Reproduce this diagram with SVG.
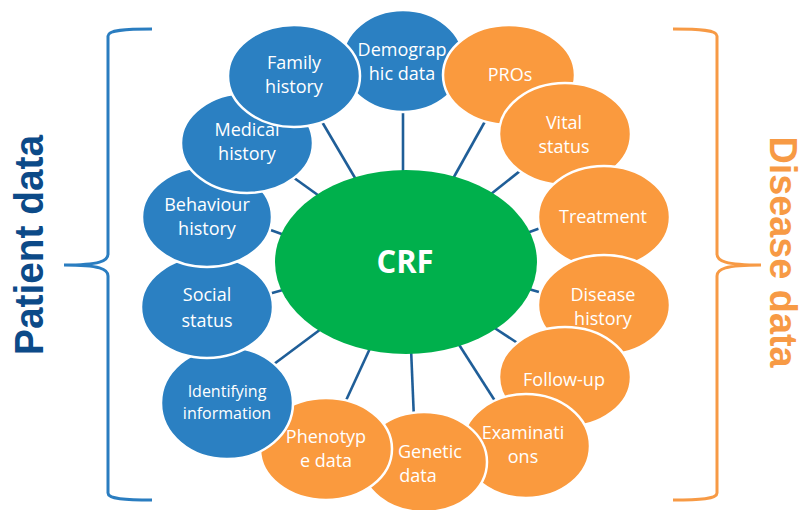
<svg xmlns="http://www.w3.org/2000/svg" width="806" height="510" viewBox="0 0 806 510">
<style>
.b{fill:#2B80C2;stroke:#fff;stroke-width:2.5}
.o{fill:#FA9A3E;stroke:#fff;stroke-width:2.5}
.t{font-family:"Open Sans","Noto Sans",sans-serif;font-size:18px;fill:#fff;text-anchor:middle}
.s{font-size:16px}
.c{stroke:#1F5E98;stroke-width:2.6;fill:none}
.br{fill:none;stroke-width:3}
</style>
<rect width="806" height="510" fill="#fff"/>
<g id="braces">
<path class="br" stroke="#2A7DC0" d="M152,29 C125,29 108,30 108,36 L108,254 C108,261 100,265 64,265 C100,265 108,269 108,276 L108,493 C108,499 125,500 152,500"/>
<path class="br" stroke="#F79A45" d="M673,29 C700,29 717,30 717,36 L717,254 C717,261 725,265 761,265 C725,265 717,269 717,276 L717,493 C717,499 700,500 673,500"/>
</g>
<text id="patient-label" transform="translate(43,245) rotate(-90)" font-family="Liberation Sans,Arial,sans-serif" font-weight="bold" font-size="40" fill="#0C4A88" text-anchor="middle" textLength="220" lengthAdjust="spacingAndGlyphs">Patient data</text>
<text id="disease-label" transform="translate(770,252) rotate(90)" font-family="Liberation Sans,Arial,sans-serif" font-weight="bold" font-size="38" fill="#F79A45" text-anchor="middle" textLength="231" lengthAdjust="spacingAndGlyphs">Disease data</text>
<g id="connectors">
<line class="c" x1="403" y1="105" x2="403" y2="178"/>
<line class="c" x1="318" y1="115" x2="358" y2="183"/>
<line class="c" x1="290" y1="175" x2="322" y2="198"/>
<line class="c" x1="265" y1="228" x2="290" y2="237"/>
<line class="c" x1="265" y1="295" x2="290" y2="288"/>
<line class="c" x1="270" y1="367" x2="325" y2="326"/>
<line class="c" x1="343" y1="407" x2="372" y2="344"/>
<line class="c" x1="411" y1="348" x2="414" y2="420"/>
<line class="c" x1="456" y1="340" x2="497" y2="404"/>
<line class="c" x1="490" y1="325" x2="522" y2="346"/>
<line class="c" x1="525" y1="288" x2="546" y2="294"/>
<line class="c" x1="524" y1="234" x2="546" y2="226"/>
<line class="c" x1="486" y1="198" x2="525" y2="167"/>
<line class="c" x1="450" y1="184" x2="488" y2="116"/>
</g>
<g id="crf">
<ellipse cx="406" cy="262" rx="131" ry="92" fill="#00B04C"/>
<text x="405" y="273" font-family="Open Sans,Noto Sans,sans-serif" font-weight="bold" font-size="33" fill="#fff" text-anchor="middle" textLength="57" lengthAdjust="spacingAndGlyphs">CRF</text>
</g>
<g id="demographic"><ellipse class="b" cx="403" cy="61" rx="61" ry="51"/><text class="t" x="402" y="56">Demograp</text><text class="t" x="402" y="80">hic data</text></g>
<g id="pros"><ellipse class="o" cx="509" cy="75" rx="66" ry="50"/><text class="t" x="510" y="81">PROs</text></g>
<g id="vital"><ellipse class="o" cx="565" cy="134" rx="66" ry="51"/><text class="t" x="564" y="129">Vital</text><text class="t" x="564" y="153">status</text></g>
<g id="treatment"><ellipse class="o" cx="604" cy="217" rx="66" ry="51"/><text class="t" x="603" y="223">Treatment</text></g>
<g id="disease-history"><ellipse class="o" cx="604" cy="305" rx="66" ry="50"/><text class="t" x="603" y="301">Disease</text><text class="t" x="603" y="325">history</text></g>
<g id="follow-up"><ellipse class="o" cx="565" cy="377" rx="66" ry="50"/><text class="t" x="564" y="386">Follow-up</text></g>
<g id="examinations"><ellipse class="o" cx="526" cy="446" rx="64" ry="52"/><text class="t" x="523" y="439">Examinati</text><text class="t" x="523" y="463">ons</text></g>
<g id="genetic"><ellipse class="o" cx="424" cy="462" rx="63" ry="50"/><text class="t" x="430" y="458">Genetic</text><text class="t" x="418" y="482">data</text></g>
<g id="phenotype"><ellipse class="o" cx="326" cy="449" rx="66" ry="51"/><text class="t" x="326" y="443">Phenotyp</text><text class="t" x="326" y="467">e data</text></g>
<g id="identifying"><ellipse class="b" cx="227" cy="403" rx="66" ry="56"/><text class="t s" x="227" y="397">Identifying</text><text class="t s" x="227" y="419">information</text></g>
<g id="social"><ellipse class="b" cx="207" cy="307" rx="66" ry="51"/><text class="t" x="207" y="301">Social</text><text class="t" x="207" y="327">status</text></g>
<g id="behaviour"><ellipse class="b" cx="207" cy="217" rx="65" ry="50"/><text class="t" x="207" y="211">Behaviour</text><text class="t" x="207" y="235">history</text></g>
<g id="medical"><ellipse class="b" cx="247" cy="143" rx="66" ry="50"/><text class="t" x="247" y="136">Medical</text><text class="t" x="247" y="160">history</text></g>
<g id="family"><ellipse class="b" cx="294" cy="76" rx="66" ry="51"/><text class="t" x="294" y="69">Family</text><text class="t" x="294" y="93">history</text></g>
</svg>
